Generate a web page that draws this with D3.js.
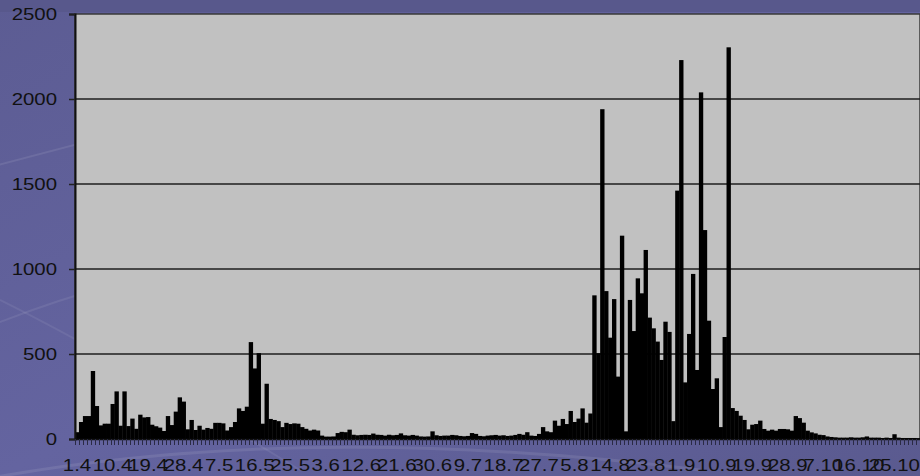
<!DOCTYPE html>
<meta charset="utf-8">
<style>
  html, body { margin: 0; padding: 0; background: #5f5f96; overflow: hidden; }
  svg { display: block; font-family: Arial, "Liberation Sans", sans-serif; }
</style>
<body>
<script src="https://d3js.org/d3.v7.min.js"></script>
<script>
  // month lengths / numbers for the categories (1.4 .. 31.10)
  var months = [4, 5, 6, 7, 8, 9, 10];
  var monthDays = [30, 31, 30, 31, 31, 30, 31];

  // tick labels shown under the axis (every 9th day)
  var tickLabels = ["1.4", "10.4", "19.4", "28.4", "7.5", "16.5", "25.5", "3.6", "12.6", "21.6",
    "30.6", "9.7", "18.7", "27.7", "5.8", "14.8", "23.8", "1.9", "10.9", "19.9", "28.9",
    "7.10", "16.10", "25.10"];

  var yTicks = [0, 500, 1000, 1500, 2000, 2500];

  // daily values
  var values = [
    40, 100, 135, 135, 400, 194, 80, 90, 90, 206, 280, 78, 280, 76, 120, 60, 143, 127, 129, 84,
    75, 67, 47, 135, 82, 161, 245, 220, 57, 112, 53, 78,
    55, 65, 60, 95, 95, 92, 50, 70, 100, 180, 165, 190, 570, 415, 505, 90, 325, 118, 112, 105, 70,
    95, 88, 92, 90, 70, 60, 50, 55, 50, 20, 14, 14, 15, 35, 42, 40, 55, 25, 22, 24, 25, 24,
    32, 25, 24, 20, 25, 22, 24, 33, 22, 20, 24, 20, 15, 14, 15, 45, 22, 18, 20, 20, 24, 22,
    18, 16, 18, 35, 30, 18, 16, 20, 22, 24, 20, 22, 18, 20, 24, 30,
    25, 40, 20, 18, 30, 70, 45, 40, 108, 78, 118, 88, 165, 100, 120, 180, 96, 150,
    845, 505, 1940, 870, 596, 823, 367, 1196, 45, 818, 635, 945, 857, 1112, 714, 651, 573, 465,
    690, 630, 105, 1461, 2229, 333, 618, 971, 406, 2039, 1229, 696, 294, 357, 70, 600, 2304,
    182, 165, 137,
    112, 57, 84, 88, 108, 59, 49, 55, 49, 59, 59, 57, 49, 135, 123, 96, 49, 39, 33, 25, 23,
    15, 12, 10, 8, 8, 8, 10, 8, 8, 10, 15, 8, 8, 8, 6, 8, 6, 28, 8, 6, 6, 6, 6, 5
  ];

  var categories = [];
  months.forEach(function (m, i) {
    for (var d = 1; d <= monthDays[i]; d++) categories.push(d + "." + m);
  });
  var data = categories.map(function (c, i) { return { day: c, value: values[i] }; });

  var W = 920, H = 476;
  var plot = { left: 75, right: 920, top: 14, bottom: 439 };

  var svg = d3.select("body").append("svg")
    .attr("width", W)
    .attr("height", H);

  // background gradient + faint swooshes
  var defs = svg.append("defs");
  var bg = defs.append("linearGradient").attr("id", "bg")
    .attr("x1", 0).attr("y1", 0).attr("x2", 1).attr("y2", 1);
  bg.append("stop").attr("offset", 0).attr("stop-color", "#5c5c93");
  bg.append("stop").attr("offset", 0.5).attr("stop-color", "#6464a0");
  bg.append("stop").attr("offset", 1).attr("stop-color", "#5a5a8f");
  svg.append("rect").attr("width", W).attr("height", H).attr("fill", "url(#bg)");
  svg.append("rect").attr("width", W).attr("height", 12).attr("fill", "#58588c");

  var swoosh = svg.append("g").attr("fill", "none").attr("stroke", "#ffffff");
  swoosh.append("path").attr("d", "M-20,170 Q200,110 420,60").attr("stroke-opacity", 0.09).attr("stroke-width", 2);
  swoosh.append("path").attr("d", "M-20,330 Q150,260 360,240").attr("stroke-opacity", 0.08).attr("stroke-width", 2);
  swoosh.append("path").attr("d", "M-20,480 Q300,420 700,470").attr("stroke-opacity", 0.09).attr("stroke-width", 3);
  swoosh.append("path").attr("d", "M0,300 Q120,360 300,470").attr("stroke-opacity", 0.07).attr("stroke-width", 2);

  // scales
  var x = d3.scaleBand()
    .domain(categories)
    .range([plot.left, plot.right])
    .padding(0);
  var y = d3.scaleLinear()
    .domain([0, 2500])
    .range([plot.bottom, plot.top]);

  // plot area
  svg.append("rect")
    .attr("x", plot.left).attr("y", plot.top)
    .attr("width", plot.right - plot.left).attr("height", plot.bottom - plot.top)
    .attr("fill", "#c1c1c1")
    .attr("stroke", "#3a3a3a").attr("stroke-width", 1.5);

  // gridlines
  svg.append("g").selectAll("line")
    .data(yTicks.filter(function (t) { return t > 0 && t < 2500; }))
    .enter().append("line")
    .attr("x1", plot.left).attr("x2", plot.right)
    .attr("y1", function (d) { return y(d); }).attr("y2", function (d) { return y(d); })
    .attr("stroke", "#1e1e1e").attr("stroke-width", 1.6);

  // bars
  svg.append("g").selectAll("rect")
    .data(data)
    .enter().append("rect")
    .attr("x", function (d) { return x(d.day); })
    .attr("width", x.bandwidth() + 0.4)
    .attr("y", function (d) { return y(d.value); })
    .attr("height", function (d) { return y(0) - y(d.value); })
    .attr("fill", "#000");

  // y axis (text is a little wide in the original, so stretch it)
  var gy = svg.append("g")
    .attr("transform", "translate(" + plot.left + ",0)")
    .call(d3.axisLeft(y).tickValues(yTicks).tickFormat(d3.format("d")).tickSize(6));
  gy.select(".domain").attr("stroke", "#111").attr("stroke-width", 2);
  gy.selectAll(".tick line").attr("stroke", "#222").attr("stroke-width", 1.5);
  gy.selectAll("text")
    .attr("x", -15)
    .attr("transform", "scale(1.2,1)")
    .attr("fill", "#111")
    .style("font-size", "17px");

  // x axis: one tick per day, labels every 9th day
  var gx = svg.append("g")
    .attr("transform", "translate(0," + plot.bottom + ")")
    .call(d3.axisBottom(x).tickValues(tickLabels).tickSize(0).tickPadding(20));
  gx.select(".domain").attr("stroke", "#111").attr("stroke-width", 1.5);
  gx.selectAll("text")
    .attr("transform", "scale(1.2,1)")
    .attr("fill", "#111")
    .style("font-size", "17px");

  svg.append("g").selectAll("line")
    .data(categories)
    .enter().append("line")
    .attr("x1", function (d) { return Math.round(x(d)) + 0.5; })
    .attr("x2", function (d) { return Math.round(x(d)) + 0.5; })
    .attr("y1", plot.bottom).attr("y2", plot.bottom + 6)
    .attr("stroke", "#2a2a44").attr("stroke-width", 1);
</script>
</body>
